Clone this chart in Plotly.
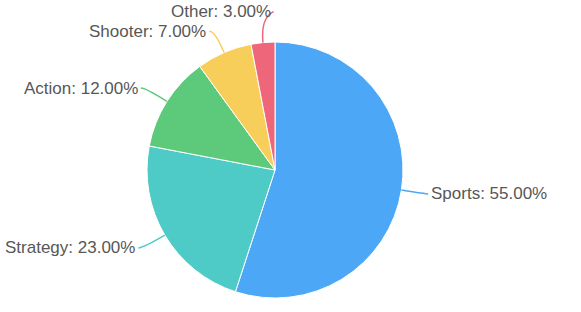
import math
import plotly.graph_objects as go

labels = ["Sports", "Strategy", "Action", "Shooter", "Other"]
values = [55, 23, 12, 7, 3]
colors = ["#4CA7F6", "#4FCBC7", "#5DC97B", "#F8CE5B", "#EE6679"]
# style-only label nudges (px) to mimic overlap avoidance
nudges = [(-3, 0), (0, 0), (0, 0), (0, 2), (18, -6)]

W, H = 581, 312
cx, cy, R = 275, 170, 128
EXT, HOR = 25, 5

fig = go.Figure(go.Pie(
    labels=labels, values=values, sort=False, direction="clockwise", rotation=0,
    marker=dict(colors=colors, line=dict(color="white", width=1)),
    textinfo="none", hoverinfo="label+percent", showlegend=False,
    domain=dict(x=[(cx - R) / W, (cx + R) / W], y=[1 - (cy + R) / H, 1 - (cy - R) / H]),
))

def px2paper(x, y):
    return x / W, 1 - y / H

total = sum(values)
cum = 0
shapes, annotations = [], []
for lab, v, col, (nx, ny) in zip(labels, values, colors, nudges):
    mid = (cum + v / 2) / total
    cum += v
    th = 2 * math.pi * mid
    dx, dy = math.sin(th), -math.cos(th)
    ex, ey = cx + R * dx, cy + R * dy
    p1x, p1y = cx + (R + EXT) * dx, cy + (R + EXT) * dy
    side = 1 if dx >= 0 else -1
    p2x, p2y = p1x + side * HOR + nx, p1y + ny
    a = px2paper(ex, ey); b = px2paper(p1x, p1y); c = px2paper(p2x, p2y)
    shapes.append(dict(type="path", xref="paper", yref="paper",
                       path=f"M {a[0]},{a[1]} Q {b[0]},{b[1]} {c[0]},{c[1]}",
                       line=dict(color=col, width=1.5)))
    pct = 100 * v / total
    annotations.append(dict(xref="paper", yref="paper", x=c[0] + side * 1 / W, y=c[1],
                            text=f"{lab}: {pct:.2f}%", showarrow=False,
                            xanchor="left" if side > 0 else "right", yanchor="middle",
                            font=dict(size=17, color="#575757", family="Liberation Sans, Arial, sans-serif")))

fig.update_layout(width=W, height=H, margin=dict(l=0, r=0, t=0, b=0),
                  paper_bgcolor="white", plot_bgcolor="white",
                  shapes=shapes, annotations=annotations)
fig.write_html("out.html")
